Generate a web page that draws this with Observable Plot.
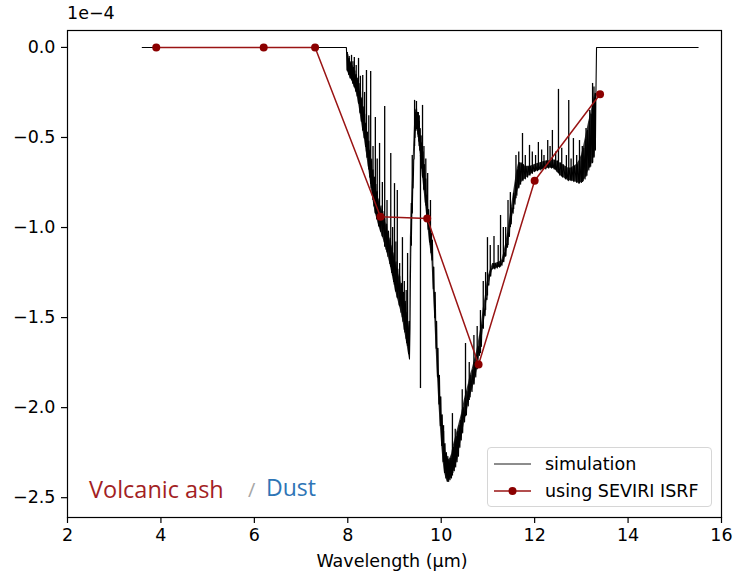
<!DOCTYPE html>
<html>
<head>
<meta charset="utf-8">
<script src="https://cdn.jsdelivr.net/npm/d3@7"></script>
<script src="https://cdn.jsdelivr.net/npm/@observablehq/plot@0.6"></script>
<style>
  html, body { margin: 0; padding: 0; background: #fff; }
  #wrap { position: relative; width: 733px; height: 576px; font-family: "DejaVu Sans", sans-serif; color: #000; }
  #wrap svg { position: absolute; left: 0; top: 0; }
  .ov { position: absolute; white-space: nowrap; line-height: 1; }
</style>
</head>
<body>
<div id="wrap"></div>
<script>
// ---- SEVIRI channels (ISRF-weighted) ----
const seviriWl  = [3.9, 6.2, 7.3, 8.7, 9.7, 10.8, 12.0, 13.4];
const seviriVal = [0, 0, 0, -0.94, -0.95, -1.76, -0.74, -0.26];

// ---- simulation: flat parts ----
const flatLeftWl  = [3.6, 7.97];
const flatLeftVal = [0, 0];
const flatRightWl  = [13.325, 15.5];
const flatRightVal = [0, 0];

// ---- simulation: dense fine-structure band (lower / upper envelope) ----
const bandWl = [
  7.99, 8.02, 8.05, 8.08, 8.11, 8.14, 8.17, 8.20, 8.23, 8.26, 8.29, 8.32, 8.35, 8.38, 8.41, 8.44, 8.47, 8.50,
  8.53, 8.56, 8.59, 8.62, 8.66, 8.70, 8.74, 8.78, 8.82, 8.86, 8.90, 8.94, 8.98, 9.02, 9.06, 9.10, 9.14, 9.18,
  9.22, 9.26, 9.30, 9.32,
  9.34, 9.36, 9.38, 9.40, 9.42, 9.44, 9.46, 9.48, 9.50, 9.52, 9.54, 9.56, 9.58, 9.60, 9.63, 9.66, 9.69, 9.72,
  9.75, 9.78, 9.80,
  9.83, 9.86, 9.89, 9.92, 9.95, 9.98, 10.01, 10.04, 10.07, 10.10, 10.13, 10.16, 10.19, 10.22, 10.25, 10.28,
  10.31, 10.34, 10.37, 10.40, 10.43, 10.46, 10.50, 10.54, 10.58, 10.62, 10.66, 10.70, 10.74, 10.78, 10.82,
  10.86, 10.90, 10.94, 10.98, 11.02, 11.06, 11.10, 11.15, 11.20, 11.25, 11.30, 11.34, 11.38, 11.42, 11.46,
  11.50, 11.54, 11.58, 11.62, 11.66, 11.70, 11.75, 11.80, 11.85, 11.90, 11.95, 12.00, 12.06, 12.12, 12.18,
  12.24, 12.30, 12.36, 12.42, 12.48, 12.54, 12.60, 12.66, 12.72, 12.78, 12.84, 12.90, 12.95, 13.00, 13.04,
  13.08, 13.12, 13.16, 13.20, 13.24, 13.27, 13.30];
const bandLow = [
  -0.13, -0.15, -0.17, -0.18, -0.20, -0.22, -0.24, -0.27, -0.31, -0.36, -0.41, -0.46, -0.50, -0.55, -0.61, -0.66, -0.72, -0.78,
  -0.83, -0.88, -0.92, -0.95, -0.99, -1.02, -1.05, -1.08, -1.12, -1.16, -1.20, -1.25, -1.30, -1.35, -1.39, -1.43, -1.47, -1.52,
  -1.58, -1.64, -1.70, -1.73,
  -1.30, -1.10, -0.92, -0.78, -0.62, -0.50, -0.46, -0.45, -0.48, -0.52, -0.57, -0.62, -0.67, -0.72, -0.79, -0.86, -0.94, -1.01,
  -1.08, -1.14, -1.18,
  -1.34, -1.50, -1.67, -1.83, -1.98, -2.10, -2.21, -2.30, -2.36, -2.39, -2.41, -2.41, -2.40, -2.39, -2.36, -2.35,
  -2.33, -2.30, -2.27, -2.22, -2.18, -2.14, -2.08, -2.04, -1.99, -1.94, -1.91, -1.87, -1.83, -1.78, -1.71,
  -1.66, -1.56, -1.49, -1.40, -1.32, -1.27, -1.23, -1.23, -1.225, -1.22, -1.21, -1.19, -1.16, -1.11, -1.05,
  -0.98, -0.92, -0.87, -0.82, -0.78, -0.76, -0.74, -0.73, -0.72, -0.71, -0.70, -0.69, -0.685, -0.68, -0.675,
  -0.675, -0.67, -0.67, -0.675, -0.69, -0.71, -0.72, -0.73, -0.74, -0.74, -0.745, -0.75, -0.755, -0.75, -0.74,
  -0.73, -0.71, -0.68, -0.66, -0.64, -0.61, -0.57];
const bandHigh = [
  -0.04, -0.06, -0.08, -0.10, -0.11, -0.13, -0.15, -0.17, -0.20, -0.24, -0.28, -0.33, -0.37, -0.42, -0.47, -0.52, -0.57, -0.62,
  -0.68, -0.72, -0.76, -0.80, -0.84, -0.88, -0.91, -0.95, -0.98, -1.02, -1.06, -1.10, -1.14, -1.19, -1.23, -1.27, -1.31, -1.36,
  -1.41, -1.47, -1.52, -1.56,
  -1.05, -0.90, -0.76, -0.62, -0.48, -0.36, -0.34, -0.36, -0.38, -0.41, -0.45, -0.49, -0.53, -0.58, -0.65, -0.73, -0.82, -0.90,
  -0.97, -1.03, -1.07,
  -1.22, -1.36, -1.52, -1.67, -1.82, -1.94, -2.04, -2.13, -2.20, -2.25, -2.27, -2.29, -2.28, -2.26, -2.22, -2.19,
  -2.16, -2.13, -2.10, -2.07, -2.04, -2.00, -1.95, -1.91, -1.87, -1.82, -1.79, -1.75, -1.71, -1.66, -1.60,
  -1.54, -1.45, -1.39, -1.31, -1.26, -1.23, -1.20, -1.20, -1.195, -1.19, -1.18, -1.14, -1.09, -1.03, -0.96,
  -0.89, -0.82, -0.75, -0.68, -0.64, -0.64, -0.65, -0.66, -0.66, -0.66, -0.655, -0.65, -0.645, -0.64, -0.635,
  -0.63, -0.63, -0.625, -0.625, -0.63, -0.64, -0.65, -0.66, -0.67, -0.67, -0.66, -0.65, -0.63, -0.60, -0.56,
  -0.51, -0.46, -0.41, -0.37, -0.32, -0.28, -0.25];

// ---- simulation: narrow absorption-line spikes ----
const spikeWl = [
  7.99, 8.03, 8.08, 8.11, 8.14, 8.18, 8.23, 8.27, 8.32, 8.36, 8.40, 8.45, 8.49, 8.54, 8.59, 8.63, 8.68, 8.74,
  8.79, 8.84, 8.92, 8.96, 9.00, 9.03, 9.06, 9.11, 9.17, 9.21, 9.25, 9.28,
  9.36, 9.38, 9.43, 9.47, 9.51, 9.53, 9.556, 9.60, 9.63, 9.67, 9.71, 9.77,
  10.05, 10.24, 10.30, 10.45, 10.52, 10.60, 10.70, 10.77, 10.84, 10.90, 10.95, 10.99, 11.05, 11.13, 11.22,
  11.27, 11.33, 11.38, 11.43, 11.48, 11.55, 11.60, 11.66, 11.74, 11.80, 11.89, 11.95, 12.02, 12.08, 12.15,
  12.20, 12.28, 12.33, 12.38, 12.45, 12.51, 12.58, 12.68, 12.73, 12.78, 12.83, 12.90, 12.96, 13.02, 13.10,
  13.18, 13.24, 13.27, 13.30];
const spikeBase = [
  -0.13, -0.15, -0.18, -0.20, -0.22, -0.25, -0.31, -0.37, -0.46, -0.51, -0.58, -0.68, -0.76, -0.85, -0.92, -0.96, -1.00, -1.05,
  -1.11, -1.14, -1.22, -1.27, -1.32, -1.36, -1.39, -1.44, -1.50, -1.57, -1.62, -1.66,
  -1.10, -0.92, -0.55, -0.45, -0.50, -0.55, -0.60, -0.72, -0.79, -0.88, -0.98, -1.10,
  -2.30, -2.38, -2.33, -2.14, -2.05, -1.96, -1.87, -1.79, -1.70, -1.56, -1.46, -1.38, -1.27, -1.23, -1.22,
  -1.22, -1.19, -1.16, -1.10, -1.00, -0.90, -0.84, -0.78, -0.74, -0.73, -0.71, -0.70, -0.69, -0.685, -0.68,
  -0.675, -0.67, -0.67, -0.67, -0.68, -0.70, -0.72, -0.73, -0.74, -0.74, -0.745, -0.75, -0.755, -0.75, -0.72,
  -0.67, -0.64, -0.61, -0.57];
const spikeTop = [
  -0.028, -0.05, -0.044, -0.08, -0.056, -0.10, -0.061, -0.16, -0.156, -0.25, -0.128, -0.38, -0.133, -0.55, -0.389, -0.62, -0.533, -0.75,
  -0.328, -0.85, -0.589, -1.00, -0.756, -1.08, -0.794, -1.20, -1.056, -1.30, -1.35, -1.144,
  -0.867, -0.60, -0.294, -0.30, -0.361, -0.38, -1.894, -0.322, -0.55, -0.62, -0.70, -0.85,
  -2.10, -2.033, -2.12, -1.90, -1.644, -1.75, -1.60, -1.55, -1.461, -1.30, -1.25, -1.056, -1.10, -1.05, -1.10,
  -0.933, -1.00, -1.00, -0.85, -0.806, -0.81, -0.60, -0.58, -0.478, -0.60, -0.544, -0.58, -0.60, -0.528, -0.57,
  -0.60, -0.517, -0.55, -0.461, -0.58, -0.233, -0.56, -0.60, -0.294, -0.62, -0.506, -0.60, -0.517, -0.55, -0.45,
  -0.35, -0.20, -0.22, -0.256];

// ---- axes ----
const xTicks = [2, 4, 6, 8, 10, 12, 14, 16];
const yTicks = [0, -0.5, -1.0, -1.5, -2.0, -2.5];

// tables for the library
const seviri = seviriWl.map((w, i) => ({wl: w, v: seviriVal[i]}));
const spikes = spikeWl.map((w, i) => ({wl: w, base: spikeBase[i], top: spikeTop[i]}));
const band = bandWl.map((w, i) => ({wl: w, low: bandLow[i], high: bandHigh[i]}));
// fine structure drawn as a saw-tooth between the two envelopes
const bandZig = bandWl.flatMap((w, i) => [{wl: w, v: bandLow[i]}, {wl: w + 0.012, v: bandHigh[i]}]);
const simLine = [
  ...flatLeftWl.map((w, i) => ({wl: w, v: flatLeftVal[i]})),
  ...bandZig,
  ...flatRightWl.map((w, i) => ({wl: w, v: flatRightVal[i]}))
];

const RED = "#8b0000";
const RED_LINE = "#9a1414";
const FS = "17.5px";
const fmtY = d => (d === 0 ? "0.0" : "\u2212" + Math.abs(d).toFixed(1));

const chart = Plot.plot({
  width: 733,
  height: 576,
  marginLeft: 67,
  marginRight: 12,
  marginTop: 30,
  marginBottom: 59,
  style: {fontFamily: "DejaVu Sans, sans-serif", fontSize: FS, color: "#000", background: "#fff", overflow: "visible"},
  x: {domain: [2, 16]},
  y: {domain: [-2.61, 0.094]},
  marks: [
    Plot.areaY(band, {x: "wl", y1: "low", y2: "high", fill: "#000", fillOpacity: 0.8, curve: "linear"}),
    Plot.line(simLine, {x: "wl", y: "v", stroke: "#000", strokeWidth: 1.1}),
    Plot.ruleX(spikes, {x: "wl", y1: "base", y2: "top", stroke: "#000", strokeWidth: 1.3}),
    Plot.line(seviri, {x: "wl", y: "v", stroke: RED_LINE, strokeWidth: 1.5}),
    Plot.dot(seviri, {x: "wl", y: "v", r: 4, fill: RED, stroke: "none"}),
    Plot.axisX({ticks: xTicks, tickFormat: d => String(d), tickSize: 6, tickPadding: 5, label: null, strokeWidth: 1.2}),
    Plot.axisY({ticks: yTicks, tickFormat: fmtY, tickSize: 6, tickPadding: 6, label: null, strokeWidth: 1.2}),
    Plot.frame({stroke: "#000", strokeWidth: 1.2})
  ]
});

const wrap = document.getElementById("wrap");
wrap.appendChild(chart);

function addText(txt, css) {
  const el = document.createElement("div");
  el.className = "ov";
  el.textContent = txt;
  Object.assign(el.style, css);
  wrap.appendChild(el);
  return el;
}
// offset text and x label
addText("1e\u22124", {left: "67px", top: "5px", fontSize: FS});
addText("Wavelength (\u00b5m)", {left: "292px", width: "200px", textAlign: "center", top: "553px", fontSize: FS});

// annotation
addText("Volcanic ash", {left: "89px", top: "478px", fontSize: "23.5px", color: "#a31f24", fontFamily: "'Open Sans', sans-serif"});
addText("/", {left: "248px", top: "480px", fontSize: "20px", color: "#a6a6a6", fontFamily: "'Open Sans', sans-serif"});
addText("Dust", {left: "266px", top: "476px", fontSize: "23px", color: "#2e75b6", fontFamily: "'Open Sans', sans-serif"});

// legend
const leg = document.createElement("div");
leg.className = "ov";
Object.assign(leg.style, {left: "487px", top: "447px", width: "225px", height: "60px", border: "1px solid #d6d6d6", borderRadius: "4px", background: "rgba(255,255,255,0.85)", boxSizing: "border-box"});
leg.innerHTML = `
<svg width="225" height="60" style="position:absolute;left:0;top:0">
  <line x1="6" x2="43" y1="16" y2="16" stroke="#000" stroke-width="0.9"/>
  <line x1="6" x2="43" y1="43" y2="43" stroke="${RED_LINE}" stroke-width="1.5"/>
  <circle cx="24.5" cy="43" r="4" fill="${RED}"/>
  <text x="57" y="22" font-size="17.5" font-family="DejaVu Sans, sans-serif" fill="#000">simulation</text>
  <text x="57" y="49" font-size="17.5" font-family="DejaVu Sans, sans-serif" fill="#000">using SEVIRI ISRF</text>
</svg>`;
wrap.appendChild(leg);
</script>
</body>
</html>
